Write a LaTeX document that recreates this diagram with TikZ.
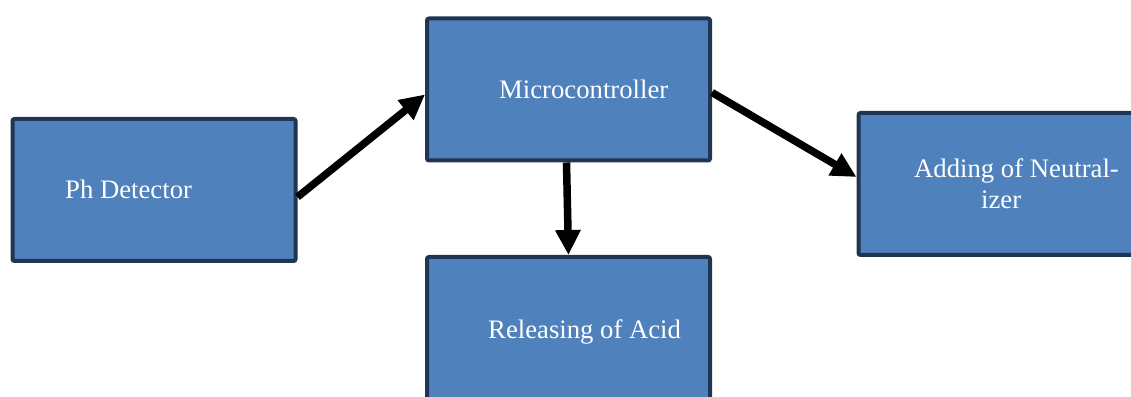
\documentclass[tikz,border=0pt]{standalone}
\usepackage{fontspec}
\setmainfont{Liberation Serif}
\usetikzlibrary{arrows.meta}
\definecolor{boxfill}{HTML}{4F81BD}
\definecolor{boxline}{HTML}{1F3552}
\tikzset{
  block/.style={draw=boxline,fill=boxfill,line width=4pt,rounded corners=2pt,
    minimum width=283pt,minimum height=142pt,inner sep=0pt},
  lbl/.style={text=white,inner sep=0pt,anchor=base west,font=\fontsize{26.7}{31}\selectfont},
  link/.style={line width=7.5pt,-{Triangle[length=25pt,width=24pt]}}
}
\begin{document}
\begin{tikzpicture}[x=1pt,y=1pt]
\useasboundingbox (0,0) rectangle (1131,396);
\clip (0,0) rectangle (1131,396);
\node[block] (det) at (154,206) {};
\node[block] (mcu) at (568.5,306.5) {};
\node[block] (neut) at (1000,212) {};
\node[block] (acid) at (568.5,68) {};
\node[lbl] (detlbl) at (65,197) {Ph Detector};
\node[lbl] (mculbl) at (499,297) {Microcontroller};
\node[lbl] (neutlbl) at (914,218) {Adding of Neutral-};
\node[lbl] (neutlbl2) at (981,187) {izer};
\node[lbl] (acidlbl) at (488,58) {Releasing of Acid};
\draw[link] ([yshift=-7pt]det.east) -- ([yshift=-5pt]mcu.west);
\draw[link] ([xshift=-2pt]mcu.south) -- (acid.north);
\draw[link] ([yshift=-3pt]mcu.east) -- ([yshift=7pt]neut.west);
\end{tikzpicture}
\end{document}
